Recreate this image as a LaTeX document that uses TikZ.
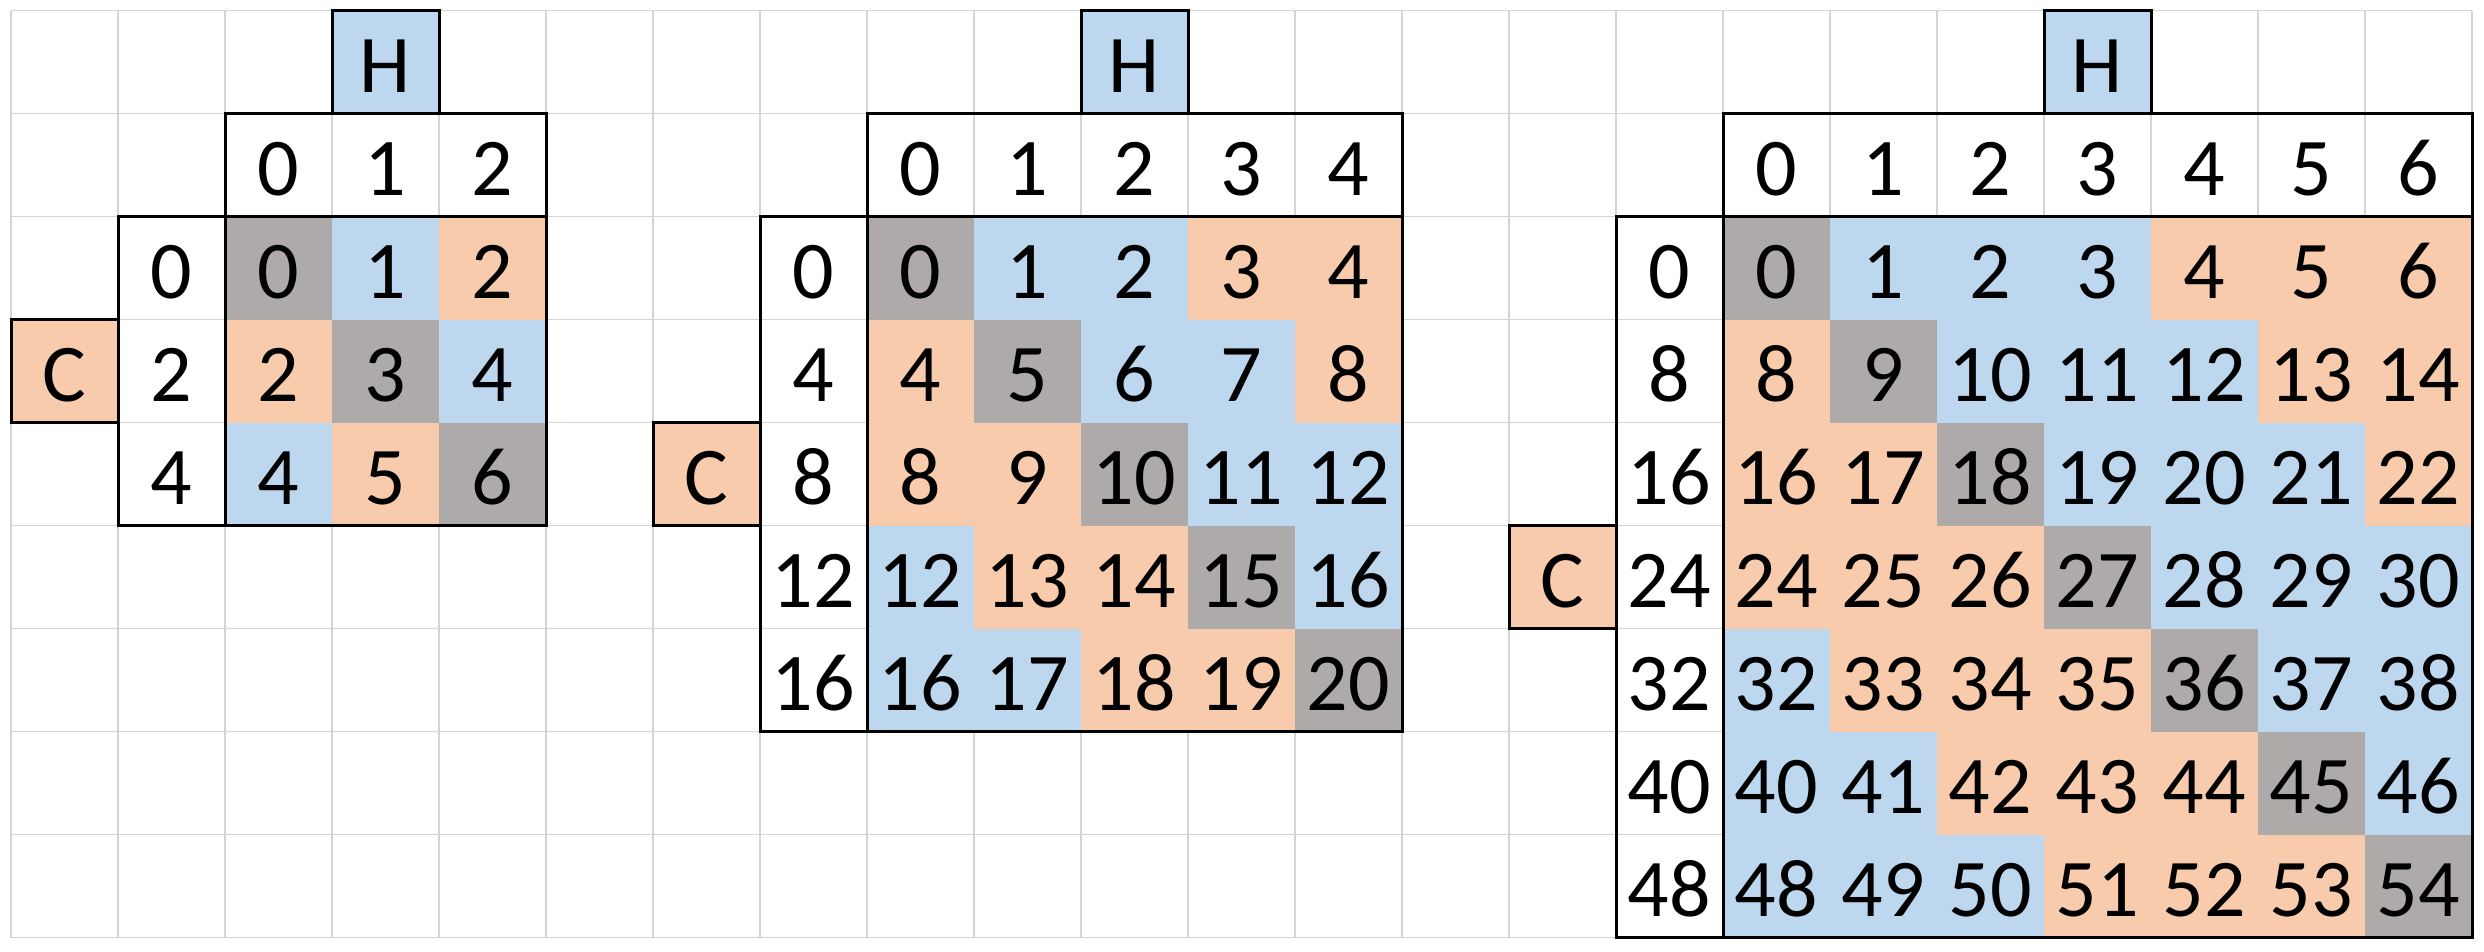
\documentclass[tikz,border=0pt]{standalone}
\usepackage{fontspec}
\setmainfont{Carlito}
\definecolor{cgray}{HTML}{AEAAAA}
\definecolor{cblue}{HTML}{BDD7EE}
\definecolor{corange}{HTML}{F8CBAD}
\definecolor{cgrid}{HTML}{D4D4D4}
\begin{document}
\begin{tikzpicture}[x=107pt,y=-103pt,
  gridline/.style={draw=cgrid,line width=1.2pt},
  boxline/.style={draw=black,line width=3pt,line join=miter},
  celltext/.style={anchor=base,inner sep=0pt,yshift=21pt,font=\fontsize{82}{98}\selectfont}]
\useasboundingbox ([xshift=-11pt,yshift=10.8pt]0,0) rectangle ([xshift=2473pt,yshift=-941.2pt]0,0);
\fill[white] ([xshift=-11pt,yshift=10.8pt]0,0) rectangle ([xshift=2473pt,yshift=-941.2pt]0,0);
% spreadsheet grid
\foreach \k in {0,...,23} \draw[gridline] (\k,0) -- (\k,9);
\foreach \k in {0,...,9} \draw[gridline] (0,\k) -- (23,\k);
% panels: label column / size / row step / name
\foreach \L/\n/\s/\p in {1/3/2/a, 7/5/4/b, 15/7/8/c} {
  \pgfmathtruncatemacro\nm{\n-1}
  \pgfmathtruncatemacro\half{(\n-1)/2}
  \pgfmathtruncatemacro\hc{\L+1+\half}
  \pgfmathtruncatemacro\cr{2+\half}
  \pgfmathtruncatemacro\cc{\L-1}
  % fills
  \foreach \i in {0,...,\nm} {
    \foreach \j in {0,...,\nm} {
      \pgfmathtruncatemacro\d{mod(\j-\i+\n,\n)}
      \ifnum\d=0 \def\fc{cgray}\else\ifnum\d>\half \def\fc{corange}\else\def\fc{cblue}\fi\fi
      \fill[\fc] (\L+1+\j,2+\i) rectangle ++(1,1);
    }
  }
  \fill[cblue] (\hc,0) rectangle ++(1,1);
  \fill[corange] (\cc,\cr) rectangle ++(1,1);
  % borders
  \draw[boxline] (\hc,0) rectangle ++(1,1);
  \draw[boxline] (\cc,\cr) rectangle ++(1,1);
  \draw[boxline] (\L+1,1) rectangle (\L+1+\n,2);
  \draw[boxline] (\L,2) rectangle (\L+1,2+\n);
  \draw[boxline] (\L+1,2) rectangle (\L+1+\n,2+\n);
  % texts
  \node[celltext] (\p-H) at (\hc+0.5,1) {H};
  \node[celltext] (\p-C) at (\cc+0.5,\cr+1) {C};
  \foreach \j in {0,...,\nm} {
    \node[celltext] (\p-h\j) at (\L+1.5+\j,2) {\j};
  }
  \foreach \i in {0,...,\nm} {
    \pgfmathtruncatemacro\rv{\i*\s}
    \node[celltext] (\p-r\i) at (\L+0.5,3+\i) {\rv};
    \foreach \j in {0,...,\nm} {
      \pgfmathtruncatemacro\v{\i*\s+\j}
      \node[celltext] (\p-\i-\j) at (\L+1.5+\j,3+\i) {\v};
    }
  }
}
\end{tikzpicture}
\end{document}
